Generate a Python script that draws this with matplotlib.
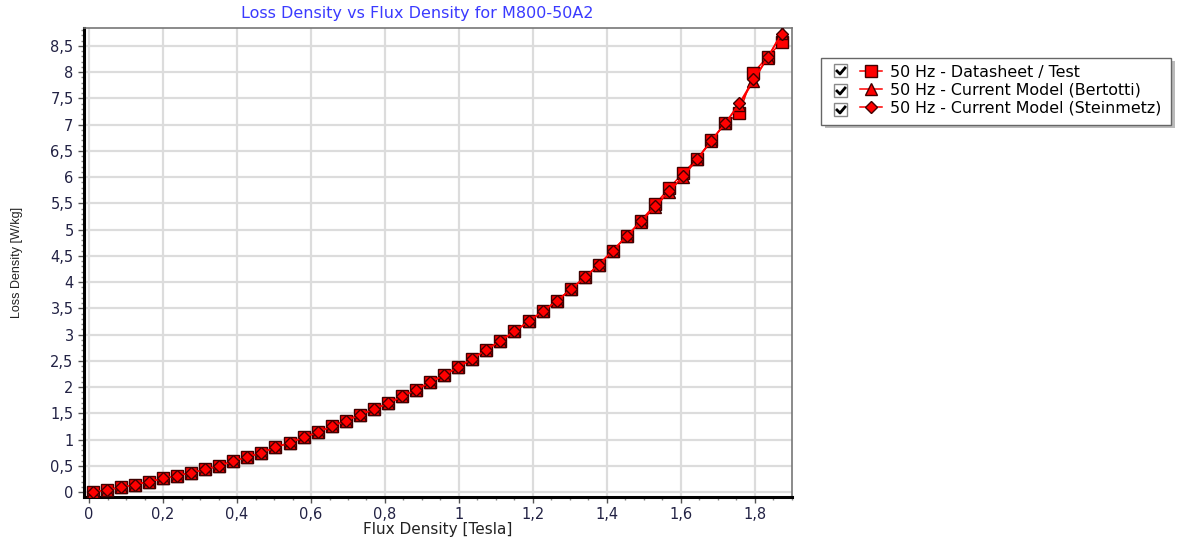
import matplotlib
matplotlib.use("Agg")
import matplotlib.pyplot as plt
from matplotlib.ticker import MultipleLocator, FuncFormatter
from matplotlib.lines import Line2D
from matplotlib.patches import Rectangle

# flux density [T]
flux = [0.010, 0.048, 0.086, 0.124, 0.162, 0.200, 0.238, 0.276, 0.314, 0.352,
        0.390, 0.428, 0.466, 0.504, 0.542, 0.580, 0.618, 0.656, 0.694, 0.732,
        0.770, 0.808, 0.846, 0.884, 0.922, 0.960, 0.998, 1.036, 1.074, 1.112,
        1.150, 1.188, 1.226, 1.264, 1.302, 1.340, 1.378, 1.416, 1.454, 1.492,
        1.530, 1.568, 1.606, 1.644, 1.682, 1.720, 1.758, 1.796, 1.834, 1.872]

# loss density [W/kg]
datasheet = [0.00, 0.04, 0.09, 0.14, 0.20, 0.26, 0.31, 0.37, 0.43, 0.50,
             0.59, 0.67, 0.75, 0.85, 0.94, 1.04, 1.14, 1.25, 1.36, 1.47,
             1.58, 1.69, 1.82, 1.95, 2.09, 2.23, 2.38, 2.54, 2.71, 2.88,
             3.06, 3.25, 3.44, 3.64, 3.86, 4.09, 4.33, 4.60, 4.88, 5.17,
             5.48, 5.79, 6.08, 6.35, 6.70, 7.03, 7.22, 7.99, 8.29, 8.57]
bertotti = [0.00, 0.04, 0.09, 0.14, 0.20, 0.26, 0.31, 0.37, 0.43, 0.50,
            0.59, 0.67, 0.75, 0.85, 0.94, 1.04, 1.14, 1.25, 1.36, 1.47,
            1.58, 1.69, 1.82, 1.95, 2.09, 2.23, 2.38, 2.54, 2.71, 2.88,
            3.06, 3.25, 3.44, 3.64, 3.86, 4.09, 4.33, 4.60, 4.88, 5.15,
            5.43, 5.72, 6.01, 6.34, 6.69, 7.03, 7.38, 7.83, 8.27, 8.75]
steinmetz = [0.00, 0.04, 0.09, 0.14, 0.20, 0.26, 0.31, 0.37, 0.43, 0.50,
             0.59, 0.67, 0.75, 0.85, 0.94, 1.04, 1.14, 1.25, 1.36, 1.47,
             1.58, 1.69, 1.82, 1.95, 2.09, 2.23, 2.38, 2.54, 2.71, 2.88,
             3.06, 3.25, 3.44, 3.64, 3.86, 4.09, 4.33, 4.60, 4.88, 5.16,
             5.44, 5.73, 6.02, 6.34, 6.69, 7.03, 7.41, 7.86, 8.28, 8.72]

labels = ["50 Hz - Datasheet / Test",
          "50 Hz - Current Model (Bertotti)",
          "50 Hz - Current Model (Steinmetz)"]

plt.rcParams["font.family"] = ["DejaVu Sans"]

fig = plt.figure(figsize=(11.82, 5.39), dpi=100)
ax = fig.add_axes([0.0711, 0.0779, 0.5989, 0.8701])

red = "#ff0000"
edge = "#400000"
ax.plot(flux, datasheet, color=red, lw=1.1, marker="s", ms=8.5,
        mfc=red, mec=edge, mew=1.0, zorder=3)
ax.plot(flux, bertotti, color=red, lw=1.1, marker="^", ms=8.5,
        mfc=red, mec=edge, mew=1.0, zorder=4)
ax.plot(flux, steinmetz, color=red, lw=1.1, marker="D", ms=6,
        mfc=red, mec=edge, mew=1.0, zorder=5)

ax.set_xlim(-0.0135, 1.90)
ax.set_ylim(-0.095, 8.84)
ax.xaxis.set_major_locator(MultipleLocator(0.2))
ax.xaxis.set_minor_locator(MultipleLocator(0.05))
ax.yaxis.set_major_locator(MultipleLocator(0.5))
ax.yaxis.set_minor_locator(MultipleLocator(0.1))

def comma(v, pos):
    s = ("%.1f" % v).rstrip("0").rstrip(".")
    if s == "-0":
        s = "0"
    return s.replace(".", ",")

ax.xaxis.set_major_formatter(FuncFormatter(comma))
ax.yaxis.set_major_formatter(FuncFormatter(comma))
ax.tick_params(which="major", direction="out", length=4, width=1,
               color="#555555", labelsize=10.5, labelcolor="#222244")
ax.tick_params(which="minor", direction="out", length=2, width=1,
               color="#888888")
ax.grid(which="major", color="#dcdcdc", lw=1.6)
ax.set_axisbelow(True)

for side in ("left", "bottom"):
    ax.spines[side].set_linewidth(2.2)
    ax.spines[side].set_color("black")
for side in ("top", "right"):
    ax.spines[side].set_linewidth(1.2)
    ax.spines[side].set_color("#777777")

ax.set_title("Loss Density vs Flux Density for M800-50A2", color="#3a3aff",
             fontsize=11.5, pad=7, x=0.47)
ax.set_xlabel("Flux Density [Tesla]", fontsize=11, labelpad=0,
              color="#222222")
ax.set_ylabel("Loss Density [W/kg]", fontsize=9, labelpad=20,
              color="#222222", family=["Liberation Sans Narrow", "Liberation Sans"])

# legend box with shadow
x0, y0, w, h = 0.695, 0.768, 0.296, 0.124
fig.patches.append(Rectangle((x0 + 0.003, y0 - 0.006), w, h, transform=fig.transFigure,
                             facecolor="#bbbbbb", edgecolor="none", zorder=1))
fig.patches.append(Rectangle((x0, y0), w, h, transform=fig.transFigure,
                             facecolor="white", edgecolor="#666666", lw=1, zorder=2))

handles = [
    Line2D([], [], color=red, lw=1.1, marker="s", ms=8.5, mfc=red, mec=edge, mew=1.0),
    Line2D([], [], color=red, lw=1.1, marker="^", ms=8.5, mfc=red, mec=edge, mew=1.0),
    Line2D([], [], color=red, lw=1.1, marker="D", ms=6, mfc=red, mec=edge, mew=1.0),
]
leg = fig.legend(handles, labels, loc="upper left", bbox_to_anchor=(0.717, 0.903),
                 frameon=False, fontsize=11.4, handlelength=1.35, handletextpad=0.55,
                 labelspacing=0.18, borderpad=0.3)
leg.set_zorder(3)

# check boxes in the legend
W, H = 1182.0, 539.0
for ry in [71, 91, 110]:
    bx, by = 834 / W, 1 - (ry + 6) / H
    fig.patches.append(Rectangle((bx, by), 13 / W, 13 / H, transform=fig.transFigure,
                                 facecolor="white", edgecolor="#888888", lw=1, zorder=4))
    fig.lines.append(Line2D([837 / W, 840 / W, 845 / W],
                            [1 - ry / H, 1 - (ry + 3) / H, 1 - (ry - 3) / H],
                            transform=fig.transFigure, color="black", lw=2, zorder=5))

fig.savefig("out.png", dpi=100)
